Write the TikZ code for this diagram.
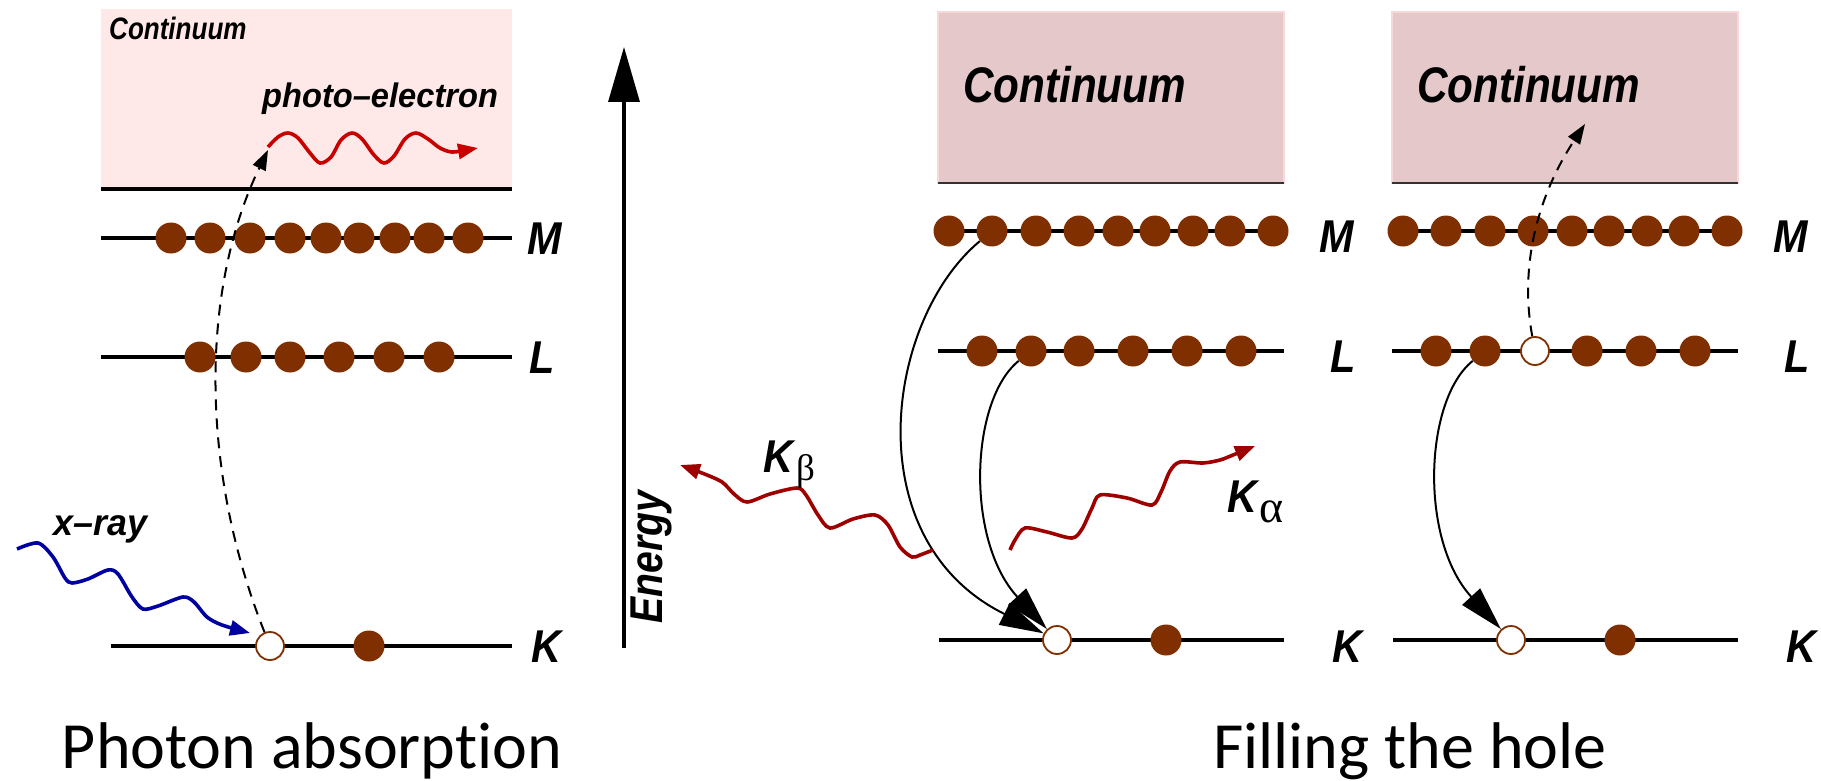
\documentclass[tikz,border=0pt]{standalone}
\usepackage{fontspec}
\usepackage{graphicx}
\usetikzlibrary{arrows.meta}
\newfontfamily\helv{Liberation Sans}
\newfontfamily\capfont[Ligatures={NoCommon}]{Carlito}
\newfontfamily\greekfont{Liberation Serif}
\definecolor{ebrown}{RGB}{128,48,0}
\definecolor{contA}{RGB}{255,232,232}
\definecolor{contB}{RGB}{229,200,202}
\definecolor{contBedge}{RGB}{248,216,216}
\definecolor{pered}{RGB}{200,0,0}
\definecolor{kred}{RGB}{158,0,0}
\definecolor{xblue}{RGB}{0,0,160}
\begin{document}
\begin{tikzpicture}[x=1pt,y=-1pt,
  level/.style={line width=3.6pt},
  electron/.style={circle, fill=ebrown, minimum size=31pt, inner sep=0pt},
  hole/.style={circle, draw=ebrown, line width=1.8pt, fill=white, minimum size=28pt, inner sep=0pt},
  shell/.style={font={\helv\bfseries\itshape\fontsize{46}{46}\selectfont}, inner sep=0pt, anchor=base},
  hfont/.style={font={\helv\bfseries\itshape\fontsize{#1}{#1}\selectfont}, inner sep=0pt},
  trans/.style={line width=2pt, -{Triangle[length=44pt,width=24pt]}},
  eject/.style={line width=2pt, dash pattern=on 11pt off 8pt, -{Triangle[length=20pt,width=14pt]}},
  photon/.style={line width=3.6pt, -{Triangle[length=20pt,width=15pt]}},
  caption/.style={font={\capfont\fontsize{66}{66}\selectfont}, inner sep=0pt, anchor=base}
]
\useasboundingbox (0,0) rectangle (1821,781);

% ---------------- left panel: photon absorption ----------------
\fill[contA] (101,9) rectangle (512,189);
\draw[line width=4pt] (101,189) -- (512,189);
\node[hfont=31, anchor=base west] (contA) at (109,40) {\scalebox{0.84}[1]{Continuum}};
\node[hfont=34, anchor=base west] (pelabel) at (262,108) {\scalebox{0.96}[1]{photo–electron}};

\draw[level] (101,238) -- (512,238);
\draw[level] (101,357) -- (512,357);
\draw[level] (111,646) -- (512,646);
\foreach \x [count=\i] in {171,210,250,290,326,359,395,429,468}
  \node[electron] (mA\i) at (\x,238) {};
\foreach \x [count=\i] in {200,246,290,339,389,439}
  \node[electron] (lA\i) at (\x,357) {};
\node[hole] (hA) at (270,646) {};
\node[electron] (kA) at (369,646) {};
\node[shell] (MA) at (545,254) {\scalebox{0.9}[1]{M}};
\node[shell] (LA) at (542,373) {\scalebox{0.9}[1]{L}};
\node[shell] (KA) at (546,662) {\scalebox{0.9}[1]{K}};

\coordinate (pe) at (268,150);
\draw[eject] (hA) .. controls (200,470) and (200,290) .. (pe);
\draw[photon, pered] plot[smooth, tension=0.55] coordinates {(268,147) (278,137) (288,133) (298,138) (310,153) (320,163) (331,157) (341,140) (352,133) (362,139) (374,155) (384,163) (394,156) (405,139) (416,133) (428,139) (440,148) (452,152) (466,150) (478,148)};

\node[hfont=37, anchor=base west] (xray) at (53,535) {\scalebox{0.97}[1]{x–ray}};
\draw[photon, xblue] plot[smooth, tension=0.5] coordinates {(17,549) (38,543) (53,557) (65,578) (72,583) (88,579) (108,570) (118,574) (132,597) (143,609) (158,606) (183,597) (194,602) (207,617) (222,625) (250,633)};

\node[caption] (capA) at (312,768) {Photon absorption};

% ---------------- energy axis ----------------
\coordinate (ebot) at (624,648);
\coordinate (etop) at (624,47);
\draw[line width=3.4pt, -{Triangle[length=55pt,width=31pt]}] (ebot) -- (etop);
\node[hfont=46, rotate=90] (energy) at (651,557) {\scalebox{0.85}[1]{Energy}};

% ---------------- middle panel: filling the hole ----------------
\filldraw[fill=contB, draw=contBedge, line width=1.5pt] (938,12) rectangle (1284,183);
\draw[line width=1.5pt, black!80] (938,183) -- (1284,183);
\node[hfont=50, anchor=base west] (contB) at (963,103) {\scalebox{0.845}[1]{Continuum}};
\draw[level] (938,231) -- (1284,231);
\draw[level] (938,351) -- (1284,351);
\draw[level] (939,640) -- (1284,640);
\foreach \x [count=\i] in {949,992,1036,1079,1118,1155,1193,1230,1273}
  \node[electron] (mB\i) at (\x,231) {};
\foreach \x [count=\i] in {982,1031,1079,1133,1187,1241}
  \node[electron] (lB\i) at (\x,351) {};
\node[hole] (hB) at (1057,640) {};
\node[electron] (kB) at (1166,640) {};
\node[shell] (MB) at (1337,252) {\scalebox{0.9}[1]{M}};
\node[shell] (LB) at (1343,372) {\scalebox{0.9}[1]{L}};
\node[shell] (KB) at (1347,662) {\scalebox{0.9}[1]{K}};

\draw[trans] (mB2) .. controls (885,320) and (855,540) .. (hB);
\draw[trans] (lB2) .. controls (970,400) and (965,540) .. (hB);

\draw[photon, kred] plot[smooth, tension=0.5] coordinates {(933,550) (920,555) (912,557) (900,547) (888,525) (875,515) (853,519) (830,528) (818,515) (806,495) (797,488) (770,494) (747,502) (734,494) (722,482) (702,473) (680,465)};
\node[hfont=46, anchor=base west] (kbeta) at (763,472) {\scalebox{0.9}[1]{K}\hspace{3pt}\raisebox{-8pt}{\greekfont\mdseries\upshape\fontsize{37}{37}\selectfont β}};

\draw[photon, kred] plot[smooth, tension=0.5] coordinates {(1010,550) (1015,540) (1025,528) (1047,532) (1072,538) (1082,529) (1092,508) (1100,495) (1127,498) (1152,505) (1161,492) (1170,471) (1180,462) (1203,463) (1220,460) (1233,455) (1255,446)};
\node[hfont=46, anchor=base west] (kalpha) at (1227,512) {\scalebox{0.9}[1]{K}\hspace{2pt}\raisebox{-10pt}{\greekfont\mdseries\upshape\fontsize{46}{46}\selectfont α}};

% ---------------- right panel ----------------
\filldraw[fill=contB, draw=contBedge, line width=1.5pt] (1392,12) rectangle (1738,183);
\draw[line width=1.5pt, black!80] (1392,183) -- (1738,183);
\node[hfont=50, anchor=base west] (contC) at (1417,103) {\scalebox{0.845}[1]{Continuum}};
\draw[level] (1392,231) -- (1738,231);
\draw[level] (1392,351) -- (1738,351);
\draw[level] (1393,640) -- (1738,640);
\foreach \x [count=\i] in {1403,1446,1490,1533,1572,1609,1647,1684,1727}
  \node[electron] (mC\i) at (\x,231) {};
\node[electron] (lC1) at (1436,351) {};
\node[electron] (lC2) at (1485,351) {};
\node[hole] (hCL) at (1535,351) {};
\node[electron] (lC4) at (1587,351) {};
\node[electron] (lC5) at (1641,351) {};
\node[electron] (lC6) at (1695,351) {};
\node[hole] (hC) at (1511,640) {};
\node[electron] (kC) at (1620,640) {};
\node[shell] (MC) at (1791,252) {\scalebox{0.9}[1]{M}};
\node[shell] (LC) at (1797,372) {\scalebox{0.9}[1]{L}};
\node[shell] (KC) at (1801,662) {\scalebox{0.9}[1]{K}};

\coordinate (auger) at (1585,124);
\draw[eject] (hCL) .. controls (1520,270) and (1535,200) .. (auger);
\draw[trans] (lC2) .. controls (1424,400) and (1419,540) .. (hC);

\node[caption] (capB) at (1410,768) {Filling the hole};
\end{tikzpicture}
\end{document}
